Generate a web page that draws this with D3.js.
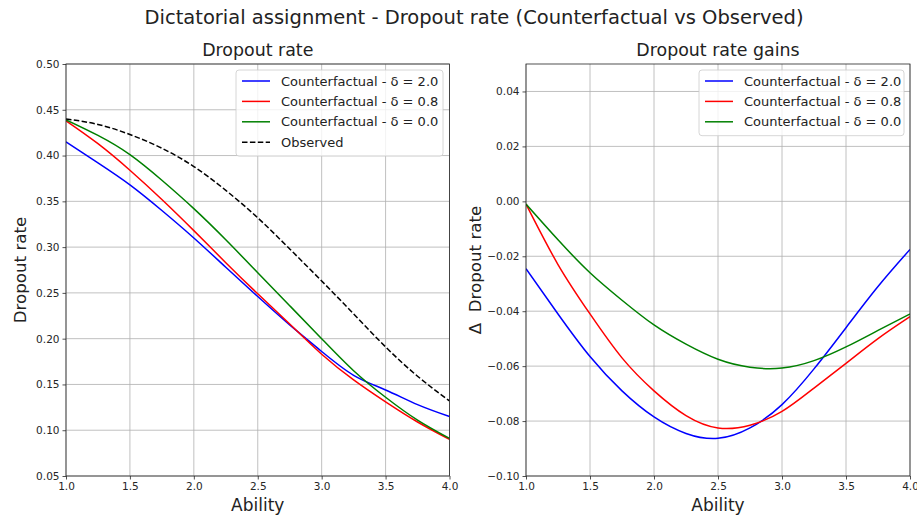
<!DOCTYPE html>
<html><head><meta charset="utf-8">
<script src="https://cdn.jsdelivr.net/npm/d3@7"></script>
<style>body{margin:0;background:#fff;} text{font-family:"DejaVu Sans",sans-serif;}</style>
</head><body><svg id="c" width="917" height="518"></svg>
<script>
const ability = [1.0,1.25,1.5,1.75,2.0,2.25,2.5,2.75,3.0,3.25,3.5,3.75,4.0];
const rateD20 = [0.415,0.392,0.368,0.340,0.310,0.278,0.246,0.215,0.186,0.160,0.144,0.128,0.115];
const rateD08 = [0.438,0.413,0.384,0.352,0.318,0.283,0.249,0.216,0.183,0.155,0.131,0.109,0.090];
const rateD00 = [0.439,0.422,0.401,0.373,0.342,0.308,0.272,0.236,0.200,0.165,0.136,0.111,0.091];
const rateObs = [0.440,0.434,0.423,0.408,0.388,0.362,0.332,0.298,0.263,0.227,0.191,0.159,0.132];
const gainD20 = [-0.0245,-0.041,-0.0565,-0.069,-0.0785,-0.0845,-0.0863,-0.0825,-0.074,-0.061,-0.046,-0.031,-0.0175];
const gainD08 = [-0.001,-0.023,-0.041,-0.057,-0.069,-0.078,-0.0825,-0.0815,-0.0765,-0.068,-0.059,-0.050,-0.042];
const gainD00 = [-0.001,-0.014,-0.026,-0.036,-0.045,-0.052,-0.0575,-0.0604,-0.0607,-0.058,-0.053,-0.047,-0.041];
const xTicks = [1.0,1.5,2.0,2.5,3.0,3.5,4.0];
const yTicksLeft = [0.05,0.10,0.15,0.20,0.25,0.30,0.35,0.40,0.45,0.50];
const yTicksRight = [-0.10,-0.08,-0.06,-0.04,-0.02,0.00,0.02,0.04];
const labels = ["Counterfactual - δ = 2.0","Counterfactual - δ = 0.8","Counterfactual - δ = 0.0","Observed"];
const colors = ["#0000ff","#ff0000","#008000","#000000"];

const svg = d3.select("#c");
svg.append("text").attr("x",474).attr("y",24).attr("text-anchor","middle")
  .attr("font-size",19.5).attr("fill","#222").text("Dictatorial assignment - Dropout rate (Counterfactual vs Observed)");

function panel(opts){
  const {x0,x1,y0,y1,ydom,yticks,series,title,ylab,legendX,legendW,nLeg} = opts;
  const x = d3.scaleLinear().domain([1,4]).range([x0,x1]);
  const y = d3.scaleLinear().domain(ydom).range([y1,y0]);
  const g = svg.append("g");
  g.selectAll(".gx").data(xTicks).enter().append("line")
    .attr("x1",d=>x(d)).attr("x2",d=>x(d)).attr("y1",y0).attr("y2",y1)
    .attr("stroke","#b0b0b0").attr("stroke-width",0.8);
  g.selectAll(".gy").data(yticks).enter().append("line")
    .attr("y1",d=>y(d)).attr("y2",d=>y(d)).attr("x1",x0).attr("x2",x1)
    .attr("stroke","#b0b0b0").attr("stroke-width",0.8);
  const cid = "clip"+x0;
  svg.append("clipPath").attr("id",cid).append("rect").attr("x",x0).attr("y",y0).attr("width",x1-x0).attr("height",y1-y0);
  const line = d3.line().x((d,i)=>x(ability[i])).y(d=>y(d)).curve(d3.curveNatural);
  series.forEach((s,i)=>{
    g.append("path").attr("d",line(s)).attr("fill","none").attr("stroke",colors[i])
      .attr("stroke-width",1.5).attr("clip-path",`url(#${cid})`)
      .attr("stroke-dasharray", i===3 ? "5.5,2.4" : null);
  });
  const ax = g.append("g").attr("transform",`translate(0,${y1})`)
    .call(d3.axisBottom(x).tickValues(xTicks).tickFormat(d3.format(".1f")).tickSize(3.5).tickPadding(3));
  const ay = g.append("g").attr("transform",`translate(${x0},0)`)
    .call(d3.axisLeft(y).tickValues(yticks).tickFormat(d3.format(".2f")).tickSize(3.5).tickPadding(3));
  [ax,ay].forEach(a=>{
    a.select(".domain").remove();
    a.selectAll("text").attr("font-size",10.5).attr("fill","#262626").attr("font-family","DejaVu Sans");
    a.selectAll("line").attr("stroke","#262626").attr("stroke-width",0.8);
  });
  g.append("rect").attr("x",x0).attr("y",y0).attr("width",x1-x0).attr("height",y1-y0)
    .attr("fill","none").attr("stroke","#262626").attr("stroke-width",0.8);
  g.append("text").attr("x",(x0+x1)/2).attr("y",y0-8).attr("text-anchor","middle")
    .attr("font-size",17.4).attr("fill","#222").text(title);
  g.append("text").attr("x",(x0+x1)/2).attr("y",511).attr("text-anchor","middle")
    .attr("font-size",17).attr("fill","#222").text("Ability");
  g.append("text").attr("transform",`translate(${opts.ylabX},${(y0+y1)/2}) rotate(-90)`)
    .attr("text-anchor","middle").attr("font-size",16.7).attr("fill","#222")
    .attr("xml:space","preserve").style("white-space","pre").text(ylab);
  const lg = g.append("g");
  const lh = 20.4;
  lg.append("rect").attr("x",legendX).attr("y",70).attr("width",legendW).attr("height",nLeg*lh+4.5)
    .attr("rx",3).attr("fill","#fff").attr("fill-opacity",0.8).attr("stroke","#cccccc").attr("stroke-width",0.8);
  for(let i=0;i<nLeg;i++){
    const yy = 81+i*lh;
    lg.append("line").attr("x1",legendX+6).attr("x2",legendX+34).attr("y1",yy).attr("y2",yy)
      .attr("stroke",colors[i]).attr("stroke-width",1.5).attr("stroke-dasharray", i===3 ? "5.5,2.4" : null);
    lg.append("text").attr("x",legendX+45).attr("y",yy+4.5).attr("font-size",13).attr("fill","#222").text(labels[i]);
  }
}

panel({x0:66,x1:449.5,y0:64,y1:476,ydom:[0.05,0.50],yticks:yTicksLeft,
  series:[rateD20,rateD08,rateD00,rateObs],title:"Dropout rate",ylab:"Dropout rate",ylabX:26,
  legendX:236,legendW:207,nLeg:4});
panel({x0:526,x1:910,y0:64,y1:476,ydom:[-0.10,0.05],yticks:yTicksRight,
  series:[gainD20,gainD08,gainD00],title:"Dropout rate gains",ylab:"Δ  Dropout rate",ylabX:481,
  legendX:699,legendW:205,nLeg:3});
</script></body></html>
